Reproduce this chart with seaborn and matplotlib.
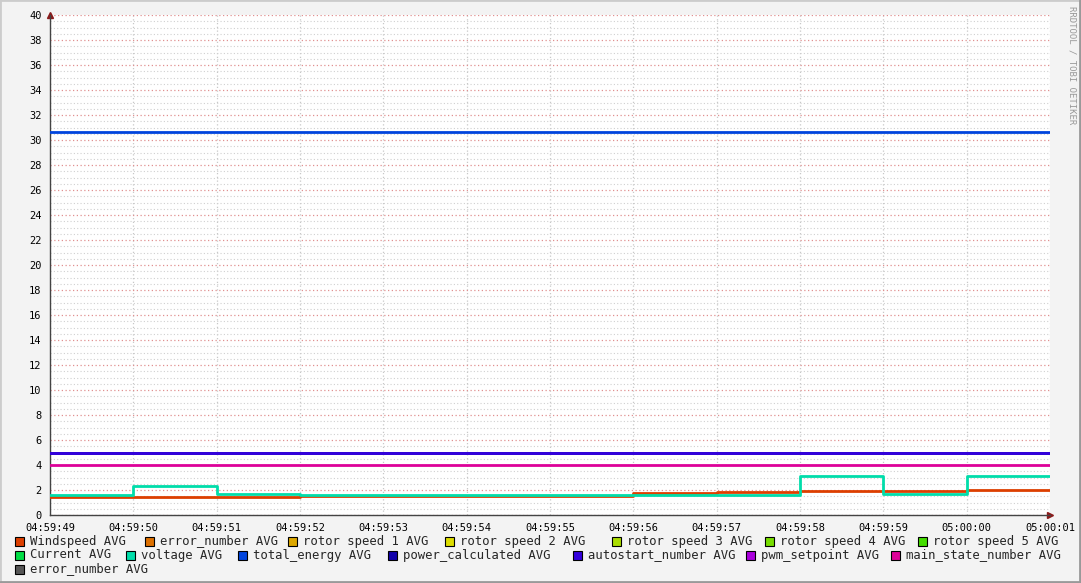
import numpy as np
import pandas as pd
import matplotlib.pyplot as plt
import matplotlib.patches as mpatches
from matplotlib.ticker import MultipleLocator, FixedLocator
import seaborn as sns

# %%
# data (one step per second)
tick_labels = ['04:59:49', '04:59:50', '04:59:51', '04:59:52', '04:59:53', '04:59:54',
               '04:59:55', '04:59:56', '04:59:57', '04:59:58', '04:59:59', '05:00:00', '05:00:01']
seconds = list(range(13))

windspeed = [1.47, 1.47, 1.47, 1.54, 1.54, 1.54, 1.54, 1.73, 1.81, 1.89, 1.95, 2.03, 2.03]
voltage = [1.63, 2.32, 1.70, 1.63, 1.63, 1.63, 1.63, 1.63, 1.63, 3.12, 1.70, 3.12, 3.12]
total_energy = [30.62] * 13
power_calculated = [5.0] * 13
autostart_number = [5.0] * 13
main_state_number = [4.0] * 13

legend_names = ['Windspeed AVG', 'error_number AVG', 'rotor speed 1 AVG', 'rotor speed 2 AVG',
                'rotor speed 3 AVG', 'rotor speed 4 AVG', 'rotor speed 5 AVG',
                'Current AVG', 'voltage AVG', 'total_energy AVG', 'power_calculated AVG',
                'autostart_number AVG', 'pwm_setpoint AVG', 'main_state_number AVG',
                'error_number AVG']
legend_colors = ['#DD3F00', '#DD7000', '#DDA800', '#DDDD00', '#AADD00', '#77DD00', '#44DD00',
                 '#00DD44', '#00DDAA', '#0044DD', '#1100AA', '#3300DD', '#AA00DD', '#DD0099',
                 '#555555']

# %%
series = {
    'Windspeed AVG': windspeed,
    'total_energy AVG': total_energy,
    'power_calculated AVG': power_calculated,
    'autostart_number AVG': autostart_number,
    'main_state_number AVG': main_state_number,
    'voltage AVG': voltage,
}
df = pd.concat([pd.DataFrame({'t': seconds, 'value': v, 'name': k}) for k, v in series.items()])
palette = dict(zip(legend_names, legend_colors))

sns.set_style('white')
plt.rcParams['font.family'] = ['DejaVu Sans Mono']

fig = plt.figure(figsize=(10.81, 5.83), dpi=100, facecolor='#F3F3F3')
W, H = 1081, 583
ax = fig.add_axes([50 / W, (H - 515) / H, 1000 / W, 500 / H])
ax.set_facecolor('white')

for name in series:
    sns.lineplot(data=df[df['name'] == name], x='t', y='value', color=palette[name],
                 drawstyle='steps-post', linewidth=2, ax=ax, legend=False, zorder=3)

ax.set_xlim(0, 12)
ax.set_ylim(0, 40)
ax.set_xlabel('')
ax.set_ylabel('')

# grid like rrdtool
ax.yaxis.set_major_locator(MultipleLocator(2))
ax.yaxis.set_minor_locator(MultipleLocator(0.5))
ax.xaxis.set_major_locator(FixedLocator(seconds))
ax.xaxis.set_minor_locator(FixedLocator([1, 6, 11]))
ax.set_xticklabels(tick_labels)
ax.grid(which='minor', axis='y', color='#D0D0D0', linestyle=(0, (1, 2)), linewidth=0.8, zorder=1)
ax.grid(which='major', axis='y', color='#E09090', linestyle=(0, (1, 2)), linewidth=0.9, zorder=1)
ax.grid(which='major', axis='x', color='#C8C8C8', linestyle=(0, (1, 2)), linewidth=0.9, zorder=1)
ax.grid(which='minor', axis='x', color='#E09090', linestyle=(0, (1, 2)), linewidth=0.9, zorder=1)
ax.tick_params(which='both', length=0)
ax.tick_params(axis='both', labelsize=7.5, colors='black', pad=3)
ax.tick_params(axis='y', which='major', length=3, color='#555555', direction='out')
ax.tick_params(axis='x', which='major', length=3, color='#555555', direction='out')

for s in ['top', 'right']:
    ax.spines[s].set_visible(False)
for s in ['left', 'bottom']:
    ax.spines[s].set_color('#444444')
    ax.spines[s].set_linewidth(1)

ax.plot([0], [1.0], marker='^', color='#8B1A1A', markersize=4, transform=ax.transAxes, clip_on=False)
ax.plot([1.0], [0], marker='>', color='#8B1A1A', markersize=4, transform=ax.transAxes, clip_on=False)

# legend, laid out the way rrdtool flows it
legend_pos = [(15, 541), (145, 541), (288, 541), (445, 541), (612, 541), (765, 541), (918, 541),
              (15, 555), (126, 555), (238, 555), (388, 555), (573, 555), (746, 555), (891, 555),
              (15, 569)]
for (px, py), name, col in zip(legend_pos, legend_names, legend_colors):
    fig.patches.append(mpatches.Rectangle((px / W, (H - py - 5) / H), 9 / W, 9 / H,
                                          transform=fig.transFigure, facecolor=col,
                                          edgecolor='black', linewidth=0.8))
    fig.text((px + 15) / W, (H - py) / H, name, fontsize=8.8, va='center', ha='left')

fig.text(1072 / W, (H - 6) / H, 'RRDTOOL / TOBI OETIKER', rotation=270, fontsize=6.5,
         color='#999999', va='top', ha='center')

# border
fig.patches.append(mpatches.Rectangle((0, 0), 1, 1, transform=fig.transFigure, fill=False,
                                      edgecolor='#CCCCCC', linewidth=2))
fig.add_artist(plt.Line2D([0, 1], [1.5 / H, 1.5 / H], color='#999999', linewidth=2))
fig.add_artist(plt.Line2D([1 - 1.5 / W, 1 - 1.5 / W], [0, 1], color='#999999', linewidth=2))

plt.savefig('out.png', dpi=100, facecolor=fig.get_facecolor())
